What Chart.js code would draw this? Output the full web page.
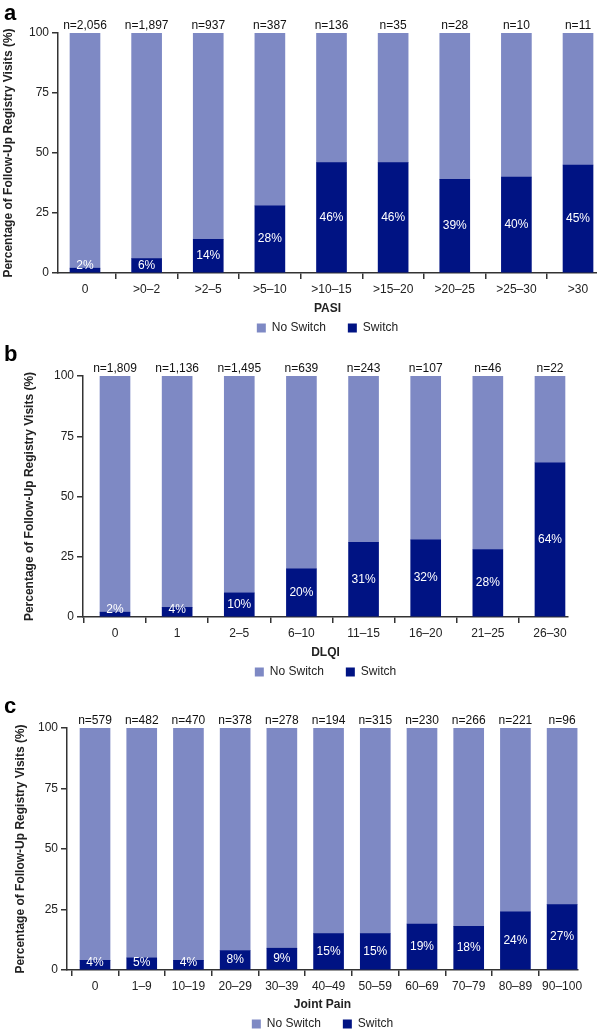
<!DOCTYPE html>
<html>
<head>
<meta charset="utf-8">
<script src="https://cdn.jsdelivr.net/npm/chart.js@4.4.1/dist/chart.umd.min.js"></script>
<style>
  html, body { margin: 0; padding: 0; background: #fff; overflow: hidden; }
  #wrap { position: relative; width: 597px; height: 1030px; }
  canvas { position: absolute; left: 0; }
  .tag { position: absolute; left: 4px; font: bold 22px 'Liberation Sans', Arial, sans-serif; line-height: 22px; color: #000; }
</style>
</head>
<body>
<div id="wrap">
  <canvas id="chartA" width="597" height="344" style="top:0px"></canvas>
  <canvas id="chartB" width="597" height="348" style="top:340px"></canvas>
  <canvas id="chartC" width="597" height="360" style="top:680px"></canvas>
  <div class="tag" style="top:2px">a</div>
  <div class="tag" style="top:343px">b</div>
  <div class="tag" style="top:695px">c</div>
</div>
<script>
// panel a: PASI
const pasiLabels = ['0', '>0–2', '>2–5', '>5–10', '>10–15', '>15–20', '>20–25', '>25–30', '>30'];
const pasiSwitch = [2, 6, 14, 28, 46, 46, 39, 40, 45];
const pasiNoSwitch = [98, 94, 86, 72, 54, 54, 61, 60, 55];
const pasiN = [2056, 1897, 937, 387, 136, 35, 28, 10, 11];

// panel b: DLQI
const dlqiLabels = ['0', '1', '2–5', '6–10', '11–15', '16–20', '21–25', '26–30'];
const dlqiSwitch = [2, 4, 10, 20, 31, 32, 28, 64];
const dlqiNoSwitch = [98, 96, 90, 80, 69, 68, 72, 36];
const dlqiN = [1809, 1136, 1495, 639, 243, 107, 46, 22];

// panel c: joint pain
const painLabels = ['0', '1–9', '10–19', '20–29', '30–39', '40–49', '50–59', '60–69', '70–79', '80–89', '90–100'];
const painSwitch = [4, 5, 4, 8, 9, 15, 15, 19, 18, 24, 27];
const painNoSwitch = [96, 95, 96, 92, 91, 85, 85, 81, 82, 76, 73];
const painN = [579, 482, 470, 378, 278, 194, 315, 230, 266, 221, 96];

const yTicks = [0, 25, 50, 75, 100];

const dark = '#001383';
const light = '#7e89c4';
const axisColor = '#333';
const font = "'Liberation Sans', Arial, sans-serif";

Chart.defaults.font.family = font;
Chart.defaults.font.size = 12;
Chart.defaults.color = '#222';

// white % inside the switch bar, n= above each bar
const barText = {
  id: 'barText',
  afterDatasetsDraw(chart, args, opts) {
    const ctx = chart.ctx;
    const meta = chart.getDatasetMeta(0);
    const yTop = chart.scales.y.getPixelForValue(100);
    ctx.save();
    ctx.font = '12px ' + font;
    ctx.textAlign = 'center';
    ctx.textBaseline = 'middle';
    meta.data.forEach((bar, i) => {
      const mid = Math.min((bar.y + bar.base) / 2, bar.base - 7);
      ctx.fillStyle = '#fff';
      ctx.fillText(chart.data.datasets[0].data[i].y + '%', bar.x, mid);
      ctx.fillStyle = '#111';
      ctx.fillText('n=' + opts.counts[i].toLocaleString('en-US'), bar.x, yTop - 7);
    });
    ctx.restore();
  }
};

function makeChart(id, labels, sw, nosw, counts, title, g) {
  new Chart(document.getElementById(id), {
    type: 'bar',
    data: {
      datasets: [
        { label: 'Switch', data: sw.map((v, i) => ({ x: i, y: v })), backgroundColor: dark, borderWidth: 0, barThickness: 30 },
        { label: 'No Switch', data: nosw.map((v, i) => ({ x: i, y: v })), backgroundColor: light, borderWidth: 0, barThickness: 30 }
      ]
    },
    options: {
      responsive: false,
      animation: false,
      devicePixelRatio: 1,
      layout: { padding: { top: g.top, left: 0, right: 597 - g.right, bottom: 0 } },
      plugins: {
        legend: {
          position: 'bottom',
          fullSize: false,
          reverse: true,
          labels: { boxWidth: 9, boxHeight: 9, padding: 22, color: '#222', font: { size: 12 } }
        },
        tooltip: { enabled: false },
        barText: { counts: counts }
      },
      scales: {
        x: {
          type: 'linear',
          stacked: true,
          min: g.min,
          max: g.max,
          offset: false,
          afterBuildTicks: s => { s.ticks = labels.map((l, i) => ({ value: i })); },
          afterFit: s => { s.height = g.xH; },
          ticks: { callback: v => labels[v], autoSkip: false, maxRotation: 0, padding: 3, color: '#222' },
          grid: { drawOnChartArea: false, tickLength: 6, color: axisColor, lineWidth: 1.5 },
          border: { color: axisColor, width: 1.5 },
          title: { display: true, text: title, color: '#222', font: { size: 12, weight: 'bold' }, padding: { top: 0, bottom: g.pb } }
        },
        y: {
          stacked: true,
          min: 0,
          max: 100,
          afterBuildTicks: s => { s.ticks = yTicks.map(v => ({ value: v })); },
          afterFit: s => { s.width = g.left; },
          ticks: { padding: 3, color: '#222' },
          grid: { drawOnChartArea: false, tickLength: 6, color: axisColor, lineWidth: 1.5 },
          border: { color: axisColor, width: 1.5 },
          title: { display: true, text: 'Percentage of Follow-Up Registry Visits (%)', color: '#222', font: { size: 12, weight: 'bold' }, padding: { top: g.tp, bottom: 0 } }
        }
      }
    },
    plugins: [barText]
  });
}

makeChart('chartA', pasiLabels, pasiSwitch, pasiNoSwitch, pasiN, 'PASI',
  { top: 33, left: 58, right: 597, min: -0.438, max: 8.308, xH: 27, pb: -16.2, tp: 1 });
makeChart('chartB', dlqiLabels, dlqiSwitch, dlqiNoSwitch, dlqiN, 'DLQI',
  { top: 36, left: 83, right: 568, min: -0.515, max: 7.29, xH: 27, pb: -16.2, tp: 22 });
makeChart('chartC', painLabels, painSwitch, painNoSwitch, painN, 'Joint Pain',
  { top: 48, left: 67, right: 578, min: -0.6, max: 10.34, xH: 26, pb: -16.2, tp: 13 });
</script>
</body>
</html>
